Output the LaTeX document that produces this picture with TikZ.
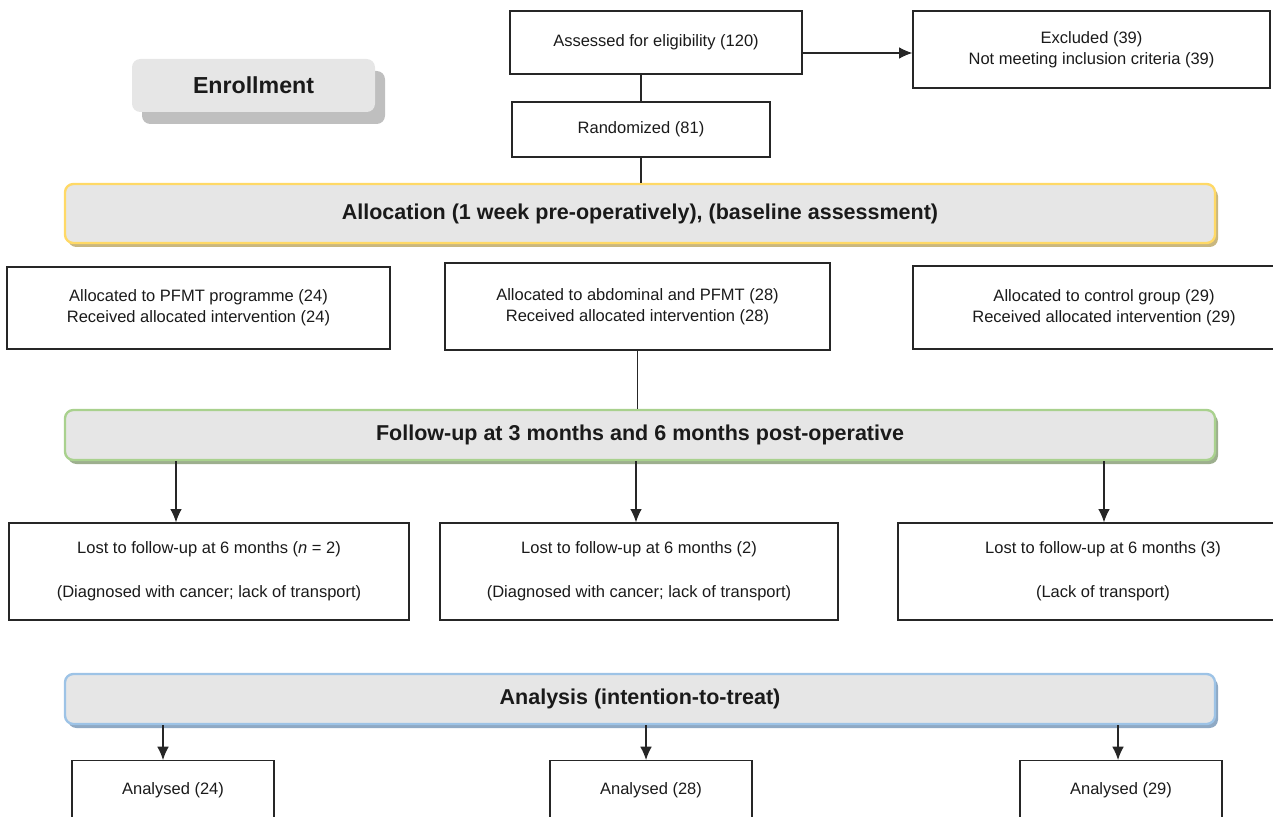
\documentclass[tikz,border=0pt]{standalone}
\usepackage{fontspec}
\setmainfont{Liberation Sans}
\usetikzlibrary{arrows.meta,shadows}

\definecolor{txt}{HTML}{1A1A1A}
\definecolor{boxline}{HTML}{262626}
\definecolor{hdrfill}{HTML}{E6E6E6}
\definecolor{enrolshade}{HTML}{BFBFBF}
\definecolor{allocline}{HTML}{FFD966}
\definecolor{allocshade}{HTML}{C9B780}
\definecolor{followline}{HTML}{A9D18E}
\definecolor{followshade}{HTML}{9DAF8E}
\definecolor{analysisline}{HTML}{9DC3E6}
\definecolor{analysisshade}{HTML}{8FA9C4}

\begin{document}
\begin{tikzpicture}[x=0.6pt, y=-0.6pt, >={Latex[length=8pt,width=7pt]},
  box/.style={draw=boxline, line width=0.8pt, align=center, inner sep=0pt,
    font=\fontsize{9.9}{12.5}\selectfont, text=txt},
  header/.style={fill=hdrfill, rounded corners=5pt, line width=1.4pt,
    minimum width=690pt, minimum height=30pt, inner sep=0pt,
    font=\fontsize{12.9}{15}\selectfont\bfseries, text=txt},
  link/.style={draw=boxline, line width=0.7pt}]
  \useasboundingbox (0,0) rectangle (1273,817);
  \clip (0,0) rectangle (1273,817);

  % enrollment
  \node[fill=hdrfill, rounded corners=5pt, minimum width=145.8pt, minimum height=31.8pt,
    drop shadow={shadow xshift=6pt, shadow yshift=-7.2pt, fill=enrolshade, opacity=1},
    font=\fontsize{13.9}{16}\selectfont\bfseries, text=txt] (enroll) at (253.5,85.5) {Enrollment};
  \node[box, minimum width=175.2pt, minimum height=37.8pt] (assess) at (656,42.5) {Assessed for eligibility (120)};
  \node[box, minimum width=214.2pt, minimum height=46.2pt] (excl) at (1091.5,49.5) {Excluded (39)\\Not meeting inclusion criteria (39)};
  \node[box, minimum width=154.8pt, minimum height=33pt] (rand) at (641,129.5) {Randomized (81)};

  % allocation
  \node[header, draw=allocline, minimum height=35.4pt,
    drop shadow={shadow xshift=1.8pt, shadow yshift=-2.4pt, fill=allocshade, opacity=1}]
    (alloc) at (640,213.5) {Allocation (1 week pre-operatively), (baseline assessment)};
  \node[box, minimum width=229.8pt, minimum height=49.2pt] (pfmt) at (198.5,308) {Allocated to PFMT programme (24)\\Received allocated intervention (24)};
  \node[box, minimum width=231pt, minimum height=52.2pt] (abdo) at (637.5,306.5) {Allocated to abdominal and PFMT (28)\\Received allocated intervention (28)};
  \node[box, minimum width=229.2pt, minimum height=49.8pt] (ctrl) at (1104,307.5) {Allocated to control group (29)\\Received allocated intervention (29)};

  % follow-up
  \node[header, draw=followline,
    drop shadow={shadow xshift=1.8pt, shadow yshift=-2.4pt, fill=followshade, opacity=1}]
    (follow) at (640,435) {Follow-up at 3 months and 6 months post-operative};
  \node[box, minimum width=240pt, minimum height=58.2pt] (lost1) at (209,571.5) {Lost to follow-up at 6 months (\textit{n} = 2)\\[14pt](Diagnosed with cancer; lack of transport)};
  \node[box, minimum width=238.8pt, minimum height=58.2pt] (lost2) at (639,571.5) {Lost to follow-up at 6 months (2)\\[14pt](Diagnosed with cancer; lack of transport)};
  \node[box, minimum width=246pt, minimum height=58.2pt] (lost3) at (1103,571.5) {Lost to follow-up at 6 months (3)\\[14pt](Lack of transport)};

  % analysis
  \node[header, draw=analysisline,
    drop shadow={shadow xshift=1.8pt, shadow yshift=-2.4pt, fill=analysisshade, opacity=1}]
    (analysis) at (640,699) {Analysis (intention-to-treat)};
  \node[box, anchor=north, minimum width=121.2pt, inner ysep=13pt, text depth=40pt] (ana1) at (173,760) {Analysed (24)};
  \node[box, anchor=north, minimum width=121.2pt, inner ysep=13pt, text depth=40pt] (ana2) at (651,760) {Analysed (28)};
  \node[box, anchor=north, minimum width=121.2pt, inner ysep=13pt, text depth=40pt] (ana3) at (1121,760) {Analysed (29)};

  % connectors
  \coordinate (f1) at (176,0);
  \coordinate (f2) at (636,0);
  \coordinate (f3) at (1104,0);
  \coordinate (a1) at (163,0);
  \coordinate (a2) at (646,0);
  \coordinate (a3) at (1118,0);
  \coordinate (x1) at (0,53);

  \draw[link, ->] (assess.east |- x1) -- (excl.west |- x1);
  \draw[link] (rand.north) -- (rand.north |- assess.south);
  \draw[link] (rand.south) -- (rand.south |- alloc.north);
  \draw[link] (abdo.south) -- (abdo.south |- follow.north);

  \draw[link, ->] (follow.south -| f1) -- (lost1.north -| f1);
  \draw[link, ->] (follow.south -| f2) -- (lost2.north -| f2);
  \draw[link, ->] (follow.south -| f3) -- (lost3.north -| f3);

  \draw[link, ->] (analysis.south -| a1) -- (ana1.north -| a1);
  \draw[link, ->] (analysis.south -| a2) -- (ana2.north -| a2);
  \draw[link, ->] (analysis.south -| a3) -- (ana3.north -| a3);
\end{tikzpicture}
\end{document}
